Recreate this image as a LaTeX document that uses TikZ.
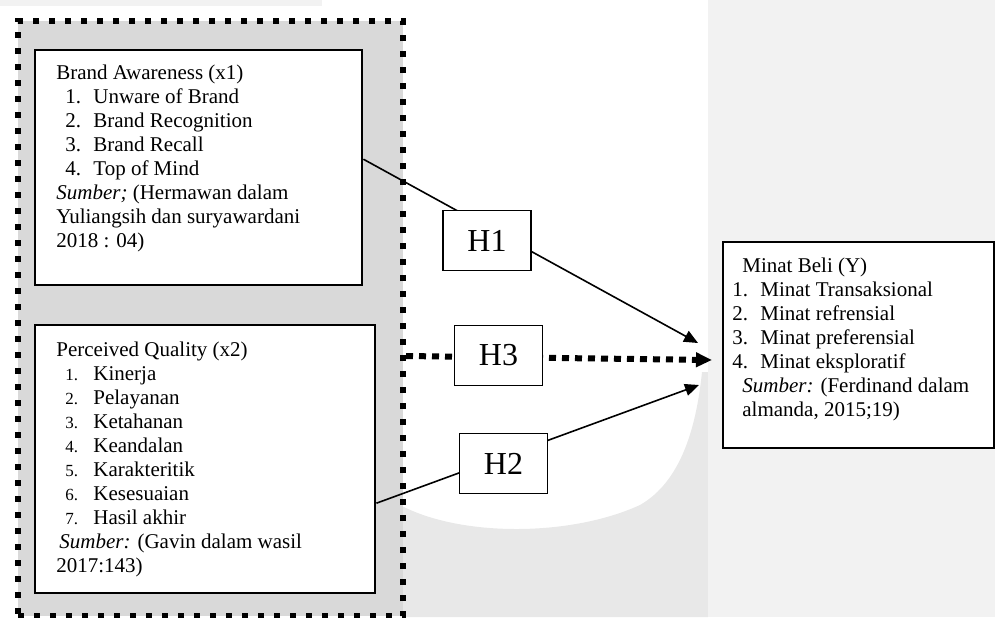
\documentclass[tikz,border=0pt]{standalone}
\usepackage{fontspec}
\setmainfont{Liberation Serif}
\usetikzlibrary{arrows.meta}

\definecolor{groupgray}{HTML}{D9D9D9}
\definecolor{panelgray}{HTML}{F2F2F2}
\definecolor{markgray}{HTML}{E8E8E8}

\newcommand{\smallnum}{\fontsize{8.5}{10}\selectfont}
\newcommand{\itm}[3][4.5pt]{\hspace*{#1}\makebox[14pt][l]{#2.}#3}

\tikzset{
  grp/.style={draw,fill=groupgray,line width=3pt,dash pattern=on 3pt off 5pt,
    inner sep=0pt,anchor=north west},
  varbox/.style={draw,fill=white,line width=1.2pt,inner sep=0pt,anchor=north west},
  % anchored at the baseline of the last line
  vartext/.style={anchor=base west,inner sep=0pt,align=left,
    font=\fontsize{10.5}{12}\selectfont},
  hbox/.style={draw,fill=white,line width=0.9pt,minimum width=44pt,
    minimum height=30pt,inner sep=0pt,font=\fontsize{16}{18}\selectfont},
  link/.style={line width=0.8pt,-{Triangle[length=7pt,width=6pt]}},
  dotlink/.style={line width=3pt,dash pattern=on 3.5pt off 3pt,
    -{Triangle[length=8pt,width=7pt]}},
}

\begin{document}
\begin{tikzpicture}[x=0.5pt,y=-0.5pt]
  \useasboundingbox (0,0) rectangle (995,617);
  % faint page background
  \fill[panelgray] (0,0) rectangle (322,6);
  \fill[markgray] (400,505) .. controls (460,537) and (570,537) .. (640,505)
    .. controls (680,482) and (696,430) .. (702,372) -- (708,372)
    -- (708,617) -- (400,617) -- cycle;
  \fill[panelgray] (708,0) rectangle (995,617);

  % independent variables
  \node[grp,minimum width=192.5pt,minimum height=297.5pt] (grp) at (15,18) {};
  \node[varbox,minimum width=163.5pt,minimum height=117.5pt] (aw) at (34,49) {};
  \node[vartext] (awtext) at (56,247) {Brand Awareness (x1)\\
    \itm{1}{Unware of Brand}\\
    \itm{2}{Brand Recognition}\\
    \itm{3}{Brand Recall}\\
    \itm{4}{Top of Mind}\\
    \textit{Sumber;} (Hermawan dalam\\
    Yuliangsih dan suryawardani\\
    2018 : 04)};
  \node[varbox,minimum width=170pt,minimum height=134pt] (pq) at (34,324) {};
  \node[vartext] (pqtext) at (56,572) {Perceived Quality (x2)\\
    \itm{\smallnum 1}{Kinerja}\\
    \itm{\smallnum 2}{Pelayanan}\\
    \itm{\smallnum 3}{Ketahanan}\\
    \itm{\smallnum 4}{Keandalan}\\
    \itm{\smallnum 5}{Karakteritik}\\
    \itm{\smallnum 6}{Kesesuaian}\\
    \itm{\smallnum 7}{Hasil akhir}\\
    \hspace*{1.5pt}\textit{Sumber:} (Gavin dalam wasil\\
    2017:143)};

  % dependent variable
  \node[varbox,minimum width=135.5pt,minimum height=103pt] (mb) at (722,241) {};
  \node[vartext] (mbtext) at (732,416) {\hspace*{5pt}Minat Beli (Y)\\
    \itm[0pt]{1}{Minat Transaksional}\\
    \itm[0pt]{2}{Minat refrensial}\\
    \itm[0pt]{3}{Minat preferensial}\\
    \itm[0pt]{4}{Minat eksploratif}\\
    \hspace*{5pt}\textit{Sumber:} (Ferdinand dalam\\
    \hspace*{5pt}almanda, 2015;19)};

  % hypotheses
  \coordinate (t1) at (698,343);
  \coordinate (t3) at (712,360);
  \coordinate (t2) at (699,385);
  \draw[link] ([yshift=4.25pt]aw.east) -- (t1);
  \draw[dotlink] ([yshift=-18.75pt]grp.east) -- (t3);
  \draw[link] ([yshift=-22pt]pq.east) -- (t2);
  \foreach \n/\x/\y in {1/487/240.5,3/498.5/355.5,2/503.5/463.5}
    \node[hbox] (h\n) at (\x,\y) {H\n};
\end{tikzpicture}
\end{document}
